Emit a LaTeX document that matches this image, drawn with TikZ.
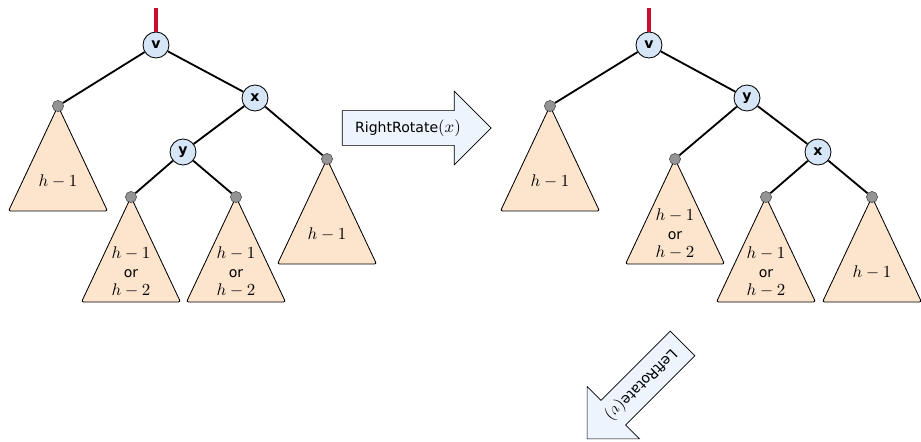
\documentclass[tikz,border=0pt]{standalone}
\usepackage{fontspec}
\setsansfont{DejaVu Sans}
\usepackage{graphicx}
\usetikzlibrary{shapes.arrows}
\usetikzlibrary{backgrounds}
\definecolor{nodeblue}{RGB}{214,230,247}
\definecolor{treepeach}{RGB}{253,228,204}
\definecolor{arrowblue}{RGB}{237,244,253}
\definecolor{rootred}{RGB}{200,16,46}

\begin{document}
\begin{tikzpicture}[x=0.025cm, y=-0.025cm,
	inner/.style={circle, draw=black, line width=0.6pt, fill=nodeblue, minimum size=0.65cm, inner sep=0pt, font=\sffamily\bfseries},
	leaf/.style={circle, draw=black!70, line width=0.4pt, fill=black!42, minimum size=0.28cm, inner sep=0pt},
	edge/.style={line width=1.3pt},
	rootline/.style={rootred, line width=2.2pt},
	subtree/.style={draw=black, line width=0.6pt, fill=treepeach, rounded corners=1.5pt},
	height/.style={font=\sffamily\fontsize{10}{13}\selectfont, align=center},
	rotbox/.style={single arrow, draw=black, line width=0.5pt, fill=arrowblue, single arrow head extend=0.49cm, inner xsep=2pt, inner ysep=6.1pt, font=\sffamily}]
	\useasboundingbox (0,0) rectangle (921,441);

	% tree before the rotation
	\node[inner] (v1) at (156,45) {v};
	\node[inner] (x1) at (255,98) {x};
	\node[inner] (y1) at (183,152) {y};
	\node[leaf] (lA) at (58,106) {};
	\node[leaf] (lB) at (131,197) {};
	\node[leaf] (lC) at (236,197) {};
	\node[leaf] (lD) at (327,159) {};
	\coordinate (t1) at (156,8);

	% tree after the rotation
	\node[inner] (v2) at (649,45) {v};
	\node[inner] (y2) at (747,98) {y};
	\node[inner] (x2) at (818,152) {x};
	\node[leaf] (rA) at (550,106) {};
	\node[leaf] (rB) at (675,159) {};
	\node[leaf] (rC) at (766,197) {};
	\node[leaf] (rD) at (872,197) {};
	\coordinate (t2) at (649,8);

	\begin{pgfonlayer}{background}
	\foreach \n in {lA,lB,lC,lD,rA,rB,rC,rD}
		\draw[subtree] (\n.center) -- ++(-49.5,105) -- ++(99,0) -- cycle;
	\end{pgfonlayer}

	\draw[rootline] (t1) -- (v1);
	\draw[edge] (v1) -- (lA);
	\draw[edge] (v1) -- (x1);
	\draw[edge] (x1) -- (y1);
	\draw[edge] (x1) -- (lD);
	\draw[edge] (y1) -- (lB);
	\draw[edge] (y1) -- (lC);

	\draw[rootline] (t2) -- (v2);
	\draw[edge] (v2) -- (rA);
	\draw[edge] (v2) -- (y2);
	\draw[edge] (y2) -- (rB);
	\draw[edge] (y2) -- (x2);
	\draw[edge] (x2) -- (rC);
	\draw[edge] (x2) -- (rD);

	\node[height] (hA) at (58,181) {\scalebox{1.2}{$h-1$}};
	\node[height] (hB) at (131,272) {\scalebox{1.2}{$h-1$}\\or\\\scalebox{1.2}{$h-2$}};
	\node[height] (hC) at (236,272) {\scalebox{1.2}{$h-1$}\\or\\\scalebox{1.2}{$h-2$}};
	\node[height] (hD) at (327,234) {\scalebox{1.2}{$h-1$}};
	\node[height] (kA) at (550,181) {\scalebox{1.2}{$h-1$}};
	\node[height] (kB) at (675,234) {\scalebox{1.2}{$h-1$}\\or\\\scalebox{1.2}{$h-2$}};
	\node[height] (kC) at (766,272) {\scalebox{1.2}{$h-1$}\\or\\\scalebox{1.2}{$h-2$}};
	\node[height] (kD) at (872,272) {\scalebox{1.2}{$h-1$}};

	\node[rotbox, minimum height=3.725cm] (rr) at (408,128) {RightRotate\scalebox{1.2}{$(x)$}};
	\node[rotbox, minimum height=3.375cm, rotate=225] (lr) at (641,385) {LeftRotate\scalebox{1.2}{$(v)$}};
\end{tikzpicture}
\end{document}
